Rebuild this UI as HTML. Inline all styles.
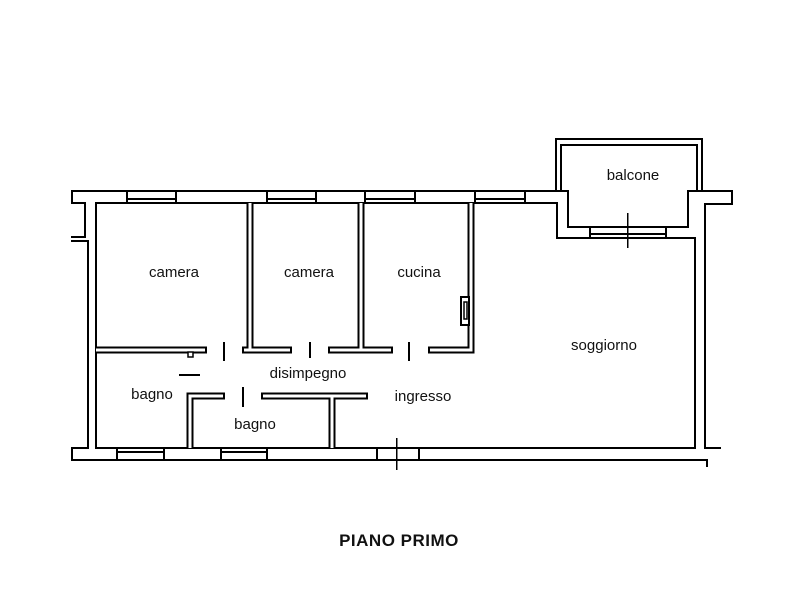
<!DOCTYPE html>
<html><head><meta charset="utf-8"><style>
html,body{margin:0;padding:0;background:#fff;}
svg{display:block}
text{font-family:"Liberation Sans","DejaVu Sans",sans-serif;fill:#111;}
</style></head><body>
<svg width="800" height="600" viewBox="0 0 800 600" xmlns="http://www.w3.org/2000/svg">
<rect width="800" height="600" fill="#fff"/>
<g fill="none" stroke="#000" stroke-width="2" stroke-linecap="square">
  <!-- outer line -->
  <path d="M72 191 H568 V227 H688 V191 H732 V204 H705 V448 H720"/>
  <path d="M72 191 V203 H85 V237 H72"/>
  <path d="M72 241 H88 V448 H72 V460 H707 V466"/>
  <!-- inner line -->
  <path d="M96 448 V203 H557 V238 H695 V448 H96"/>
  <!-- balcony -->
  <path d="M556 191 V139 H702 V191"/>
  <path d="M561 191 V145 H697 V191"/>
</g>
<!-- top windows -->
<g fill="#000">
  <rect x="127" y="198" width="49" height="2"/>
  <rect x="126" y="190" width="2" height="14"/><rect x="175" y="190" width="2" height="14"/>
  <rect x="267" y="198" width="49" height="2"/>
  <rect x="266" y="190" width="2" height="14"/><rect x="315" y="190" width="2" height="14"/>
  <rect x="365" y="198" width="50" height="2"/>
  <rect x="364" y="190" width="2" height="14"/><rect x="414" y="190" width="2" height="14"/>
  <rect x="475" y="198" width="50" height="2"/>
  <rect x="474" y="190" width="2" height="14"/><rect x="524" y="190" width="2" height="14"/>
  <!-- balcony door -->
  <rect x="590" y="233" width="76" height="2"/>
  <rect x="589" y="226" width="2" height="13"/><rect x="665" y="226" width="2" height="13"/>
  <rect x="627" y="213" width="1.5" height="35"/>
  <!-- bottom windows -->
  <rect x="117" y="451" width="47" height="2"/>
  <rect x="116" y="447" width="2" height="14"/><rect x="163" y="447" width="2" height="14"/>
  <rect x="221" y="451" width="46" height="2"/>
  <rect x="220" y="447" width="2" height="14"/><rect x="266" y="447" width="2" height="14"/>
  <!-- entrance -->
  <rect x="376" y="447" width="2" height="14"/><rect x="418" y="447" width="2" height="14"/>
  <rect x="396" y="438" width="1.5" height="32"/>
</g>
<!-- interior walls -->
<g fill="none" stroke-linecap="butt" stroke-linejoin="miter">
  <g stroke="#000" stroke-width="7">
    <path d="M250 203 V350"/><path d="M361 203 V350"/>
    <path d="M428 350 H471 V203"/>
    <path d="M96 350 H207"/><path d="M242 350 H292"/><path d="M328 350 H393"/>
    <path d="M225 396 H190 V448"/><path d="M261 396 H368"/><path d="M332 396 V448"/>
  </g>
  <g stroke="#fff" stroke-width="3">
    <path d="M250 203 V350"/><path d="M361 203 V350"/>
    <path d="M428 350 H471 V203"/>
    <path d="M96 350 H207"/><path d="M242 350 H292"/><path d="M328 350 H393"/>
    <path d="M225 396 H190 V448"/><path d="M261 396 H368"/><path d="M332 396 V448"/>
  </g>
</g>
<!-- free-end caps -->
<g fill="#000">
  <rect x="205" y="346.5" width="2" height="7"/>
  <rect x="242" y="346.5" width="2" height="7"/>
  <rect x="290" y="346.5" width="2" height="7"/>
  <rect x="328" y="346.5" width="2" height="7"/>
  <rect x="391" y="346.5" width="2" height="7"/>
  <rect x="428" y="346.5" width="2" height="7"/>
  <rect x="223" y="392.5" width="2" height="7"/>
  <rect x="261" y="392.5" width="2" height="7"/>
  <rect x="366" y="392.5" width="2" height="7"/>
</g>
<!-- cucina niche -->
<rect x="461" y="297" width="8" height="28" fill="#fff" stroke="#000" stroke-width="2"/>
<rect x="464" y="302" width="3" height="17" fill="#fff" stroke="#000" stroke-width="1.5"/>
<rect x="188" y="352" width="5" height="5" fill="#fff" stroke="#000" stroke-width="1.5"/>
<!-- door marks -->
<rect x="223" y="342" width="2" height="19" fill="#000"/>
<rect x="309" y="342" width="2" height="16" fill="#000"/>
<rect x="408" y="342" width="2" height="19" fill="#000"/>
<rect x="242" y="387" width="2" height="20" fill="#000"/>
<rect x="179" y="374" width="21" height="2" fill="#000"/>
<!-- labels -->
<g font-size="15" text-anchor="middle">
  <text x="174" y="277">camera</text>
  <text x="309" y="277">camera</text>
  <text x="419" y="277">cucina</text>
  <text x="308" y="378">disimpegno</text>
  <text x="152" y="399">bagno</text>
  <text x="255" y="429">bagno</text>
  <text x="423" y="401">ingresso</text>
  <text x="604" y="350">soggiorno</text>
  <text x="633" y="180">balcone</text>
</g>
<text x="399" y="546" font-size="17" font-weight="bold" text-anchor="middle" letter-spacing="0.5">PIANO PRIMO</text>
</svg>
</body></html>
